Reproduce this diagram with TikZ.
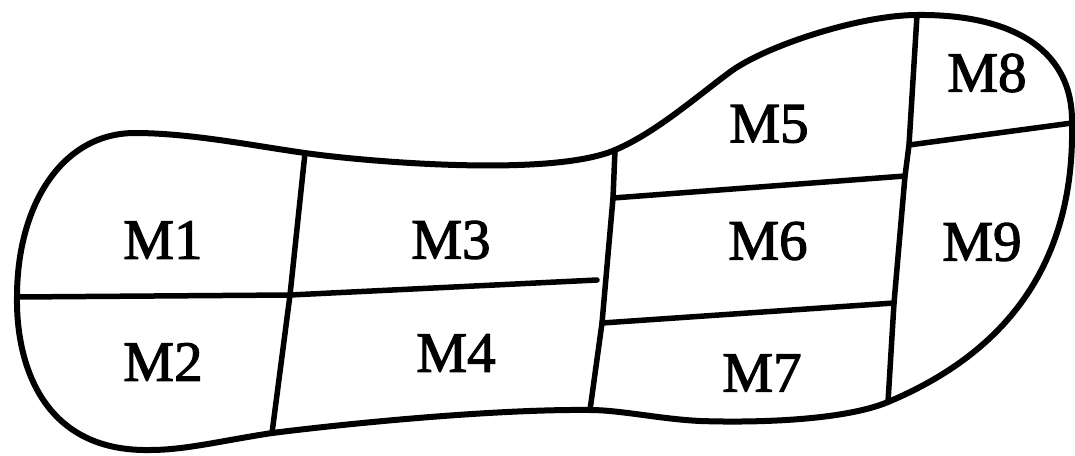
\documentclass[tikz,border=0pt]{standalone}
\usepackage{fontspec}
\setmainfont{Liberation Serif}
\newfontfamily\zonefont[FakeBold=2]{Liberation Serif}
\begin{document}
\begin{tikzpicture}[x=1pt,y=-1pt,
  rim/.style={line width=6pt,line join=round,line cap=round},
  wall/.style={line width=5.5pt,line cap=round,line join=round},
  zone/.style={inner sep=0pt,font=\zonefont\fontsize{57}{60}\selectfont}]
\useasboundingbox (0,0) rectangle (1075,455);
% junction points on the outline
\coordinate (L)  at (17,297);
\coordinate (tA) at (305,153);
\coordinate (bA) at (272,433);
\coordinate (tB) at (615,150);
\coordinate (bB) at (590,410);
\coordinate (tC) at (917,15);
\coordinate (bC) at (888,402);
\coordinate (R)  at (1072,123);
% other points of the outline
\coordinate (heel) at (135,133);
\coordinate (arch) at (730,72);
\coordinate (sole) at (700,421);
\coordinate (base) at (150,450);
% junction points inside
\coordinate (mA) at (290,295);
\coordinate (sB) at (613,198);
\coordinate (uB) at (602,323);
\coordinate (eC) at (597,280);
\coordinate (sC) at (905,176);
\coordinate (uC) at (894,303);
\coordinate (kC) at (909,145);
% outline
\draw[rim] (L)
  .. controls (17,205) and (62,133) .. (heel)
  .. controls (190,133) and (255,146) .. (tA)
  .. controls (360,161) and (550,178) .. (tB)
  .. controls (655,133) and (695,98) .. (arch)
  .. controls (765,46) and (860,15) .. (tC)
  .. controls (1005,14) and (1073,45) .. (R)
  .. controls (1075,270) and (1000,355) .. (bC)
  .. controls (845,420) and (760,423) .. (sole)
  .. controls (660,419) and (620,410) .. (bB)
  .. controls (500,409) and (360,422) .. (bA)
  .. controls (220,441) and (185,450) .. (base)
  .. controls (40,452) and (16,360) .. cycle;
% dividing walls
\draw[wall] (tA) -- (mA) -- (bA);
\draw[wall] (L) -- (mA);
\draw[wall] (mA) -- (eC);
\draw[wall] (tB) -- (sB) -- (uB) -- (bB);
\draw[wall] (sB) -- (sC);
\draw[wall] (uB) -- (uC);
\draw[wall] (tC) -- (kC) -- (sC) -- (uC) -- (bC);
\draw[wall] (kC) -- (R);
% zone labels
\node[zone] (m1) at (163,240) {M1};
\node[zone] (m2) at (163,362) {M2};
\node[zone] (m3) at (451,240) {M3};
\node[zone] (m4) at (456,353) {M4};
\node[zone] (m5) at (769,124) {M5};
\node[zone] (m6) at (768,241) {M6};
\node[zone] (m7) at (762,373) {M7};
\node[zone] (m8) at (987,73) {M8};
\node[zone] (m9) at (982,242) {M9};
\end{tikzpicture}
\end{document}
